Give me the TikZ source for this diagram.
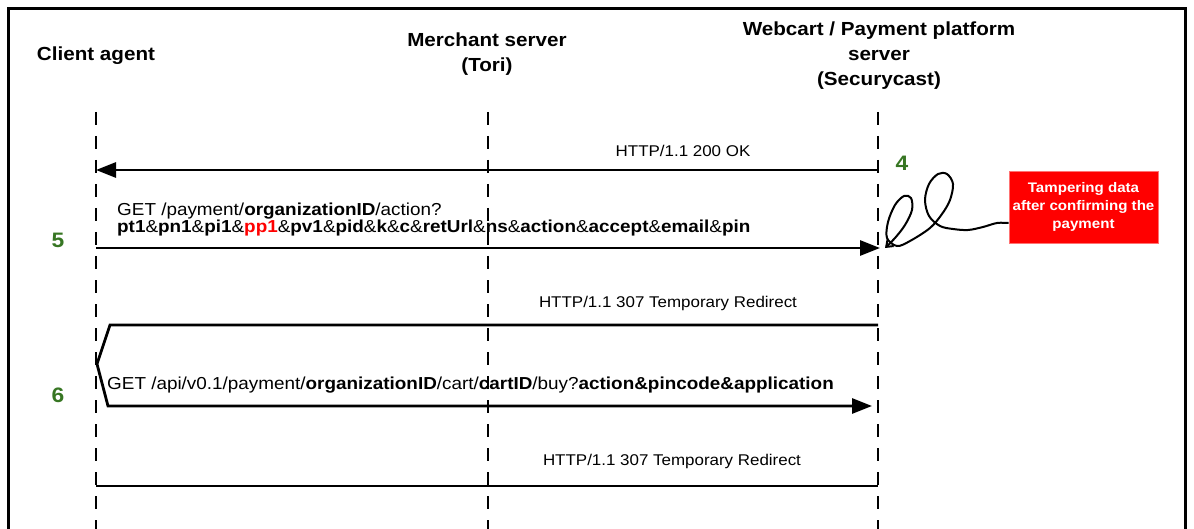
\documentclass[tikz,border=0pt]{standalone}
\usepackage{fontspec}
\setmainfont{Liberation Sans}[FakeStretch=1.09]
\usetikzlibrary{arrows.meta}
\definecolor{stepgreen}{RGB}{55,118,35}
\definecolor{alertred}{RGB}{255,0,0}

\begin{document}
\begin{tikzpicture}[x=1bp, y=-1bp,
  frame/.style={line width=3bp},
  lifeline/.style={line width=2.8bp, dash pattern=on 13bp off 11bp},
  msg/.style={line width=2.8bp},
  msgtip/.style={-{Triangle[length=20bp,width=15bp]}},
  hdr/.style={inner sep=0pt, font=\fontsize{19}{23}\selectfont\bfseries},
  lbl/.style={inner sep=0pt, font=\fontsize{15.6}{19}\selectfont},
  req/.style={inner sep=0pt, font=\fontsize{17.4}{20}\selectfont},
  num/.style={inner sep=0pt, text=stepgreen, font=\fontsize{21}{24}\selectfont\bfseries},
  alertbox/.style={fill=alertred, draw=red!55!white, line width=0.8bp,
    minimum width=149bp, minimum height=72bp, inner sep=0pt, align=center,
    text=white, font=\fontsize{13.9}{18}\selectfont\bfseries},
  scribble/.style={line width=2bp, -{Straight Barb[length=6bp,width=9bp]}}
]
\useasboundingbox (0,0) rectangle (1194,529);

% outer frame (open at the bottom)
\draw[frame] (8,535) -- (8,8.5) -- (1185.5,8.5) -- (1185.5,535);

% participants
\node[hdr, anchor=base] (hA) at (96,61) {Client agent};
\node[hdr, anchor=base] (hB1) at (487,47) {Merchant server};
\node[hdr, anchor=base] (hB2) at (487,72) {(Tori)};
\node[hdr, anchor=base] (hC1) at (879,36) {Webcart / Payment platform};
\node[hdr, anchor=base] (hC2) at (879,61) {server};
\node[hdr, anchor=base] (hC3) at (879,86) {(Securycast)};

% lifelines
\coordinate (la0) at (96,112);  \coordinate (la1) at (96,531);
\coordinate (lb0) at (488,112); \coordinate (lb1) at (488,531);
\coordinate (lc0) at (878,112); \coordinate (lc1) at (878,531);
\draw[lifeline] (la0) -- (la1);
\draw[lifeline] (lb0) -- (lb1);
\draw[lifeline] (lc0) -- (lc1);

% message end points on the lifelines
\coordinate (okS) at (878,170);  \coordinate (okA) at (96,170);
\coordinate (r5A) at (96,248);   \coordinate (r5S) at (880,248);
\coordinate (rdS) at (878,325);  \coordinate (rdK1) at (110,325);
\coordinate (rdK2) at (97,364);  \coordinate (rdK3) at (108,406);
\coordinate (rdE) at (872,406);
\coordinate (btA) at (96,486);   \coordinate (btS) at (878,486);

% 4: 200 OK
\draw[msg, msgtip] (okS) -- (okA);
\node[lbl, anchor=base] (okL) at (683,157) {HTTP/1.1 200 OK};
\node[num] (n4) at (902,163) {4};

% 5: payment request
\draw[msg, msgtip] (r5A) -- (r5S);
\node[req, anchor=base west] (r5a) at (117,216) {GET /payment/\textbf{organizationID}/action?};
\node[req, anchor=base west] (r5b) at (117,233) {\textbf{pt1}\&\textbf{pn1}\&\textbf{pi1}\&\textcolor{alertred}{\textbf{pp1}}\&\textbf{pv1}\&\textbf{pid}\&\textbf{k}\&\textbf{c}\&\textbf{retUrl}\&\textbf{ns}\&\textbf{action}\&\textbf{accept}\&\textbf{email}\&\textbf{pin}};
\node[num] (n5) at (58,240) {5};

% 6: redirect and follow-up request
\draw[msg, msgtip, line join=miter] (rdS) -- (rdK1) -- (rdK2) -- (rdK3) -- (rdE);
\node[lbl, anchor=base] (rdL) at (668,308) {HTTP/1.1 307 Temporary Redirect};
\node[req, anchor=base west] (r6) at (107,389) {GET /api/v0.1/payment/\textbf{organizationID}/cart/\textbf{cartID}/buy?\textbf{action\&pincode\&application}};
\node[num] (n6) at (58,395) {6};

% final redirect
\draw[msg] (btA) -- (btS);
\node[lbl, anchor=base] (btL) at (672,465) {HTTP/1.1 307 Temporary Redirect};

% tampering note with a looping pointer to the request
\node[alertbox] (tamper) at (1083.5,207) {Tampering data\\after confirming the\\payment};
\draw[scribble] plot[smooth, tension=0.55] coordinates {
  ([yshift=-16bp]tamper.west) (997,223) (983,227) (968,230) (953,229) (940,226)
  (929,216) (925,200) (929,184) (938,174) (947,174) (953,184) (950,200)
  (942,214) (930,228) (910,241) (897,246) (887,238) (888,222) (895,205)
  (904,196) (911,198) (912,210) (905,225) (895,238) (885,248)};
\end{tikzpicture}
\end{document}
